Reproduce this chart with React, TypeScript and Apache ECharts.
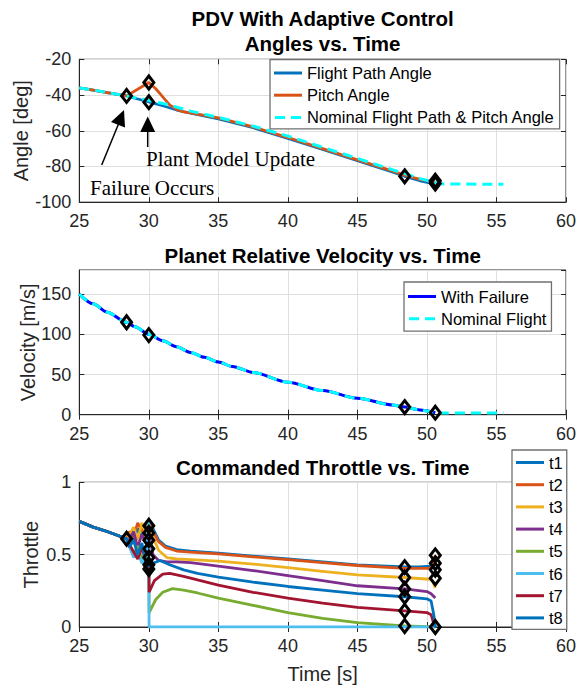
import React, { useEffect, useRef } from "react";
import * as echarts from "echarts";

// ---------- Data ----------
const timeTicks = [25, 30, 35, 40, 45, 50, 55, 60];

const flightPathAngle: number[][] = [
  [25, -36], [26, -37.2], [27, -38.6], [28.4, -40.5], [29, -41.8], [30, -43.8], [31, -46],
  [32, -48.4], [33, -50.2], [35, -53.3], [37.5, -58.3], [40, -64.3], [42.5, -70.5],
  [45, -76.8], [47.5, -83], [48.4, -85.5], [49.5, -88], [50.2, -89.2], [50.6, -89.5],
];
const pitchAngle: number[][] = [
  [25, -36], [26, -37.2], [27, -38.6], [28.4, -40.5], [29.2, -36.8], [30, -33], [30.5, -36.5],
  [31, -41], [31.5, -45.5], [32, -48], [32.5, -49.4], [33, -50], [35, -52.8], [37.5, -57.8],
  [40, -63.8], [42.5, -70], [45, -76.3], [47.5, -82.5], [48.4, -84.9], [49.5, -87.2],
  [50.2, -88.2], [50.6, -88.6],
];
const nominalAngle: number[][] = [
  [25, -36], [26, -37.2], [27, -38.6], [28.4, -40.5], [30, -43], [31.5, -45.6], [33, -49],
  [35, -52.5], [37.5, -57.4], [40, -63], [42.5, -69.3], [45, -75.5], [47.5, -81.8],
  [48.4, -84], [49.5, -86.8], [50.6, -88.9], [51.2, -89.8], [55.5, -90],
];
const angleMarkers: number[][] = [
  [28.4, -40.5], [30, -33], [30, -44], [48.4, -85.5], [50.6, -88], [50.6, -89.6],
];

const velocityFailure: number[][] = [
  [25, 150], [26, 138], [27, 127.5], [28.4, 115], [29, 109.5], [30, 100], [31, 92],
  [32, 84.5], [33, 77.5], [34, 71.5], [35, 65.5], [36, 60], [37.5, 52.5], [40, 40.5],
  [42.5, 30], [45, 20.5], [47.5, 12.2], [48.4, 9.5], [49.5, 6], [50.6, 2.5],
];
const velocityNominal: number[][] = [
  [25, 150], [26, 138], [27, 127.5], [28.4, 115], [29, 109.5], [30, 100], [31, 92],
  [32, 84.5], [33, 77.5], [34, 71.5], [35, 65.5], [36, 60], [37.5, 52.5], [40, 40.5],
  [42.5, 30], [45, 20.5], [47.5, 12.2], [48.4, 9.5], [49.5, 6], [50.6, 2.5], [51.2, 2],
  [55.5, 2],
];
const velocityMarkers: number[][] = [[28.4, 115], [30, 99], [48.4, 9.5], [50.6, 2.5]];

const throttleNames = ["t1", "t2", "t3", "t4", "t5", "t6", "t7", "t8"];
const throttleColors = [
  "#0072BD", "#D95319", "#EDB120", "#7E2F8E", "#77AC30", "#4DBEEE", "#A2142F", "#0072BD",
];
const throttlePre: number[][] = [[25, 0.73], [26, 0.69], [27, 0.66], [28.4, 0.61]];
const t1: number[][] = [
  [28.6, 0.64], [28.9, 0.6], [29.2, 0.68], [29.5, 0.63], [29.8, 0.7], [30, 0.74],
  [30.3, 0.68], [30.7, 0.6], [31.2, 0.56], [32, 0.535], [33, 0.525], [35, 0.51],
  [37.5, 0.49], [40, 0.47], [42.5, 0.45], [45, 0.43], [48.4, 0.415], [49.5, 0.415],
  [50.2, 0.42], [50.5, 0.44], [50.6, 0.45],
];
const t2: number[][] = [
  [28.6, 0.66], [28.9, 0.62], [29.2, 0.72], [29.5, 0.66], [29.8, 0.71], [30, 0.72],
  [30.3, 0.66], [30.7, 0.59], [31.2, 0.55], [32, 0.525], [33, 0.518], [35, 0.505],
  [37.5, 0.485], [40, 0.465], [42.5, 0.445], [45, 0.425], [48.4, 0.405], [50.2, 0.405],
  [50.4, 0.42], [50.6, 0.495],
];
const t3: number[][] = [
  [28.6, 0.63], [28.9, 0.69], [29.2, 0.6], [29.5, 0.72], [29.8, 0.64], [30, 0.7],
  [30.3, 0.62], [30.7, 0.53], [31.3, 0.48], [32, 0.47], [33, 0.465], [35, 0.455],
  [37.5, 0.435], [40, 0.41], [42.5, 0.385], [45, 0.36], [48.4, 0.342], [50.2, 0.33],
  [50.4, 0.32], [50.6, 0.27],
];
const t4: number[][] = [
  [28.6, 0.6], [28.9, 0.66], [29.2, 0.55], [29.5, 0.64], [29.8, 0.58], [30, 0.65],
  [30.3, 0.5], [30.7, 0.46], [31.3, 0.45], [32, 0.45], [33, 0.445], [35, 0.42],
  [37.5, 0.39], [40, 0.355], [42.5, 0.32], [45, 0.285], [48.4, 0.263], [50, 0.245],
  [50.3, 0.23], [50.6, 0.2],
];
const t5: number[][] = [
  [28.6, 0.58], [28.9, 0.5], [29.2, 0.56], [29.5, 0.47], [29.8, 0.52], [30, 0.45],
  [30.02, 0.1], [30.5, 0.19], [31, 0.24], [31.7, 0.265], [32.5, 0.255], [33.5, 0.235],
  [35, 0.2], [37.5, 0.15], [40, 0.1], [42.5, 0.06], [45, 0.03], [48.4, 0.007], [50.6, 0],
];
const t6: number[][] = [
  [28.6, 0.56], [28.9, 0.48], [29.2, 0.52], [29.5, 0.44], [29.8, 0.5], [30, 0.74],
  [30.02, 0], [50.6, 0],
];
const t7: number[][] = [
  [28.6, 0.57], [28.9, 0.52], [29.2, 0.47], [29.5, 0.55], [29.8, 0.45], [30, 0.48],
  [30.02, 0.24], [30.4, 0.32], [31, 0.365], [31.5, 0.37], [32.5, 0.35], [33.5, 0.325],
  [35, 0.29], [37.5, 0.24], [40, 0.2], [42.5, 0.165], [45, 0.135], [48.4, 0.112],
  [50, 0.1], [50.3, 0.085], [50.5, 0.02], [50.6, 0],
];
const t8: number[][] = [
  [28.6, 0.55], [28.9, 0.6], [29.2, 0.5], [29.5, 0.58], [29.8, 0.45], [30, 0.42],
  [30.3, 0.44], [30.8, 0.46], [31.5, 0.43], [32.5, 0.395], [33.5, 0.37], [35, 0.345],
  [37.5, 0.31], [40, 0.28], [42.5, 0.255], [45, 0.23], [48.4, 0.209], [50, 0.195],
  [50.3, 0.18], [50.5, 0.08], [50.6, 0],
];
const throttleSeries = [t1, t2, t3, t4, t5, t6, t7, t8];
const throttleMarkers: number[][] = [
  [28.4, 0.61],
  [30, 0.7], [30, 0.65], [30, 0.6], [30, 0.54], [30, 0.48], [30, 0.43], [30, 0.4],
  [48.4, 0.414], [48.4, 0.342], [48.4, 0.263], [48.4, 0.209], [48.4, 0.112], [48.4, 0.007],
  [50.6, 0.495], [50.6, 0.44], [50.6, 0.395], [50.6, 0.337], [50.6, 0],
];

// ---------- Layout ----------
const FONT = "'Liberation Sans', Arial, sans-serif";
const SERIF = "'Liberation Serif', 'Times New Roman', serif";
const AX = "#262626";
const GRIDC = "#DFDFDF";
const PL = 79.3;
const PW = 486.7;
const grids = [
  { top: 59.3, height: 142.9 },
  { top: 270, height: 144.7 },
  { top: 482.3, height: 144.7 },
];
const yDefs = [
  { min: -100, max: -20, interval: 20, name: "Angle [deg]", gap: 48 },
  { min: 0, max: 180, interval: 50, name: "Velocity [m/s]", gap: 41 },
  { min: 0, max: 1, interval: 0.5, name: "Throttle", gap: 38 },
];
const SOLID_ICON = "path://M0,0H28V3H0Z";
const DASH_ICON = "path://M0,0H10V3H0Z M16,0H26V3H16Z";

export default function App() {
  const ref = useRef<HTMLDivElement>(null);
  useEffect(() => {
    if (!ref.current) return;
    const chart = echarts.init(ref.current, null, { renderer: "svg" });

    const xAxis: any[] = [];
    const yAxis: any[] = [];
    grids.forEach((g, i) => {
      xAxis.push({
        type: "value", gridIndex: i, min: timeTicks[0], max: timeTicks[timeTicks.length - 1], interval: 5,
        axisLine: { show: true, lineStyle: { color: AX, width: 1 } },
        axisTick: { show: true, inside: true, length: 5, lineStyle: { color: AX } },
        axisLabel: { color: AX, fontSize: 18, fontFamily: FONT, margin: 10 },
        splitLine: { show: true, lineStyle: { color: GRIDC, width: 1 } },
        name: i === 2 ? "Time [s]" : "", nameLocation: "middle", nameGap: 37, nameMoveOverlap: false,
        nameTextStyle: { color: AX, fontSize: 20, fontFamily: FONT },
      });
      xAxis.push({
        type: "value", gridIndex: i, position: "top", min: 25, max: 60, interval: 5,
        axisLine: { show: false }, axisLabel: { show: false }, splitLine: { show: false },
        axisTick: { show: true, inside: true, length: 5, lineStyle: { color: AX } },
      });
      const yd = yDefs[i];
      yAxis.push({
        type: "value", gridIndex: i, min: yd.min, max: yd.max, interval: yd.interval,
        axisLine: { show: true, lineStyle: { color: AX, width: 1 } },
        axisTick: { show: true, inside: true, length: 5, lineStyle: { color: AX } },
        axisLabel: { color: AX, fontSize: 18, fontFamily: FONT, margin: 8, showMaxLabel: i !== 1 },
        splitLine: { show: true, lineStyle: { color: GRIDC, width: 1 } },
        name: yd.name, nameLocation: "middle", nameGap: yd.gap, nameMoveOverlap: false,
        nameTextStyle: { color: AX, fontSize: 20, fontFamily: FONT },
      });
      yAxis.push({
        type: "value", gridIndex: i, position: "right", min: yd.min, max: yd.max, interval: yd.interval,
        axisLine: { show: false }, axisLabel: { show: false }, splitLine: { show: false },
        axisTick: { show: true, inside: true, length: 5, lineStyle: { color: AX } },
      });
    });

    const line = (name: string, gi: number, data: number[][], color: string, width: number, dashed = false, smooth: any = false) => ({
      type: "line", name, xAxisIndex: gi * 2, yAxisIndex: gi * 2, data, symbol: "none",
      smooth, smoothMonotone: "x",
      lineStyle: { color, width, type: dashed ? [10, 6] : "solid", cap: "butt" },
      itemStyle: { color }, z: 3,
    });
    const markers = (gi: number, data: number[][]) => ({
      type: "scatter", name: "markers" + gi, xAxisIndex: gi * 2, yAxisIndex: gi * 2, data,
      symbol: "diamond", symbolSize: [10, 13],
      itemStyle: { color: "rgba(0,0,0,0)", borderColor: "#000", borderWidth: 3, opacity: 1 }, z: 10,
    });

    const series: any[] = [
      line("Flight Path Angle", 0, flightPathAngle, "#0072BD", 2.8),
      line("Pitch Angle", 0, pitchAngle, "#D95319", 2.8),
      line("Nominal Flight Path & Pitch Angle", 0, nominalAngle, "#00FFFF", 3, true),
      markers(0, angleMarkers),
      line("With Failure", 1, velocityFailure, "#0000FF", 3, false, 0.3),
      line("Nominal Flight", 1, velocityNominal, "#00FFFF", 3, true, 0.3),
      markers(1, velocityMarkers),
      ...throttleSeries.map((d, k) =>
        line(throttleNames[k], 2, [...throttlePre, ...d], throttleColors[k], 2.8)
      ),
      markers(2, throttleMarkers),
    ];

    const legendBase = {
      orient: "vertical", backgroundColor: "#fff", borderColor: "#707070", borderWidth: 1.3,
      itemWidth: 28, itemHeight: 3, itemGap: 5.2, selectedMode: false,
      textStyle: { color: "#000", fontSize: 16.5, fontFamily: FONT, lineHeight: 17 },
    };
    const li = (name: string, dashed = false) => ({ name, icon: dashed ? DASH_ICON : SOLID_ICON });

    const titleText = (text: string, y: number) => ({
      type: "text", x: PL + PW / 2, y,
      style: { text, fill: "#000", font: `bold 20.5px ${FONT}`, align: "center", verticalAlign: "middle" },
    });
    const annoText = (text: string, x: number, y: number) => ({
      type: "text", x, y,
      style: { text, fill: "#000", font: `21px ${SERIF}`, align: "left", verticalAlign: "middle" },
      z: 20,
    });

    chart.setOption({
      animation: false,
      backgroundColor: "#fff",
      grid: grids.map((g) => ({
        left: PL, width: PW, top: g.top, height: g.height, show: true,
        borderColor: AX, borderWidth: 1, backgroundColor: "transparent",
      })),
      xAxis, yAxis,
      legend: [
        {
          ...legendBase,
          data: [li("Flight Path Angle"), li("Pitch Angle"), li("Nominal Flight Path & Pitch Angle", true)],
          left: 270, top: 59.5, padding: [5, 5, 3, 4],
        },
        {
          ...legendBase,
          data: [li("With Failure"), li("Nominal Flight", true)],
          left: 404, top: 282, padding: [6, 5, 4, 4],
        },
        { ...legendBase, data: throttleNames.map((n) => li(n)), left: 512, top: 450, padding: [4, 4, 3, 4] },
      ],
      series,
      graphic: [
        titleText("PDV With Adaptive Control", 18),
        titleText("Angles vs. Time", 43.5),
        titleText("Planet Relative Velocity vs. Time", 255),
        titleText("Commanded Throttle vs. Time", 467),
        annoText("Plant Model Update", 146, 159),
        annoText("Failure Occurs", 90, 188),
        { type: "line", shape: { x1: 147.7, y1: 131, x2: 147.7, y2: 147 }, style: { stroke: "#000", lineWidth: 1.5 }, z: 20 },
        { type: "polygon", shape: { points: [[147.7, 116.5], [140.2, 132], [155.2, 132]] }, style: { fill: "#000" }, z: 20 },
        { type: "line", shape: { x1: 118.5, y1: 124, x2: 101.7, y2: 165 }, style: { stroke: "#000", lineWidth: 1.5 }, z: 20 },
        { type: "polygon", shape: { points: [[124, 110], [111, 122], [125, 127.6]] }, style: { fill: "#000" }, z: 20 },
      ],
    });
    return () => chart.dispose();
  }, []);
  return <div ref={ref} style={{ position: "fixed", left: 0, top: 0, width: 585, height: 688 }} />;
}
